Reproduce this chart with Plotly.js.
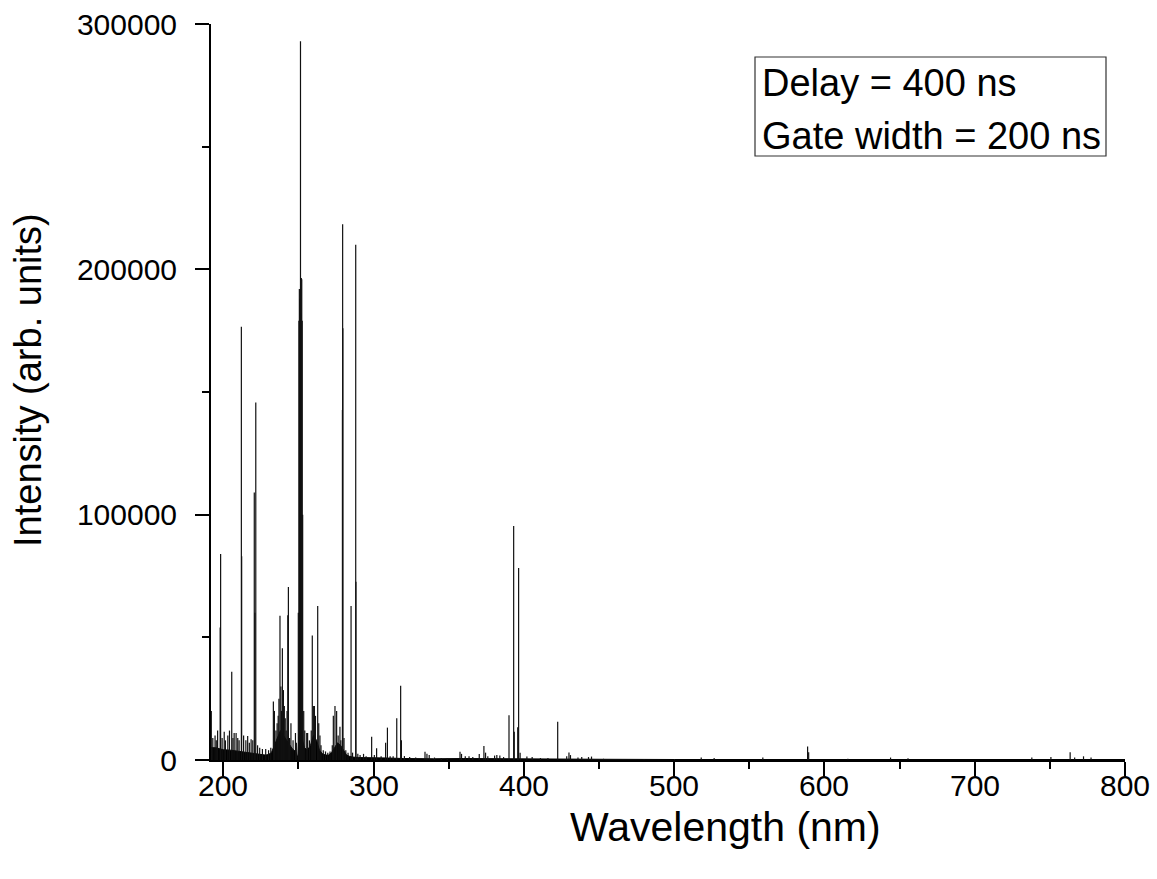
<!DOCTYPE html>
<html>
<head>
<meta charset="utf-8">
<script src="https://cdn.plot.ly/plotly-3.0.1.min.js"></script>
<style>
  html, body { margin: 0; padding: 0; background: #fff; }
  #chart { width: 1157px; height: 879px; }
</style>
</head>
<body>
<div id="chart"></div>
<script>
// Emission lines: wavelength (nm) and peak intensity (arb. units)
const lineWl = [
  192.0, 193.0, 194.5, 195.3, 196.2, 197.9, 198.2, 199.2, 200.6, 201.4, 203.0, 204.1,
  205.6, 206.4, 207.2, 208.5, 209.6, 210.5, 212.0, 212.2, 213.5, 215.0, 216.2, 217.3,
  218.5, 219.6, 220.6, 221.0, 221.6, 222.8, 224.2, 226.0, 228.2, 230.1, 231.6,
  233.3, 234.0, 235.0, 235.8, 236.5, 237.0, 237.7, 238.3, 238.7, 239.3, 239.8, 240.0,
  240.6, 241.2, 241.8, 242.4, 242.9, 243.3, 244.1, 245.0, 246.4, 248.0, 248.6,
  249.9, 250.3, 250.6, 250.9, 251.2, 251.35, 251.6, 251.9, 252.2, 252.5, 252.8,
  253.5, 254.2, 255.5, 256.1, 257.3, 258.5, 259.2, 259.9, 260.6, 261.3, 262.8, 263.5,
  264.3, 265.0, 266.5, 268.0, 269.5, 271.0, 272.5, 273.2, 274.3, 275.4, 276.4, 277.6,
  278.2, 279.25, 279.4, 279.55, 280.3, 281.5, 283.0, 285.0, 286.0, 288.1, 288.25,
  289.5, 291.0, 293.3, 295.0, 298.7, 300.5, 302.0, 305.0, 308.0, 309.2, 311.0, 313.0,
  315.4, 318.0, 318.5, 320.5, 324.0, 328.0, 334.2, 335.5, 337.0, 340.5, 345.0, 349.0,
  357.5, 358.5, 361.0, 363.5, 366.0, 370.3, 373.4, 374.5, 376.0, 380.5, 382.0, 384.0,
  386.5, 390.1, 393.2, 393.6, 395.9, 396.5, 397.5, 402.0, 405.5, 411.0, 416.0, 422.5,
  428.5, 430.0, 431.0, 436.0, 438.5, 443.0, 445.0, 453.0, 466.0, 480.0, 518.0, 526.6,
  559.0, 588.8, 589.5, 615.6, 644.0, 655.6, 738.0, 750.7, 763.5, 766.5, 772.4, 777.4
];
const lineInt = [
  20000, 9000, 10000, 8000, 12000, 54000, 84000, 9000, 11500, 8000, 10000, 12000,
  36000, 9000, 11000, 11000, 9000, 8000, 176600, 83000, 10000, 8000, 9800, 7000,
  8500, 8000, 109000, 60000, 145700, 6000, 5000, 4500, 4500, 4000, 5000,
  23800, 20000, 12000, 15000, 18000, 25000, 58800, 30000, 20000, 45600, 16000, 28500,
  22000, 17000, 12000, 20000, 59000, 70500, 9000, 15000, 8000, 11000, 7000,
  60000, 179000, 192000, 188000, 179000, 293000, 182000, 196500, 196000, 179000, 100000,
  20000, 12000, 11000, 11000, 8000, 12000, 50700, 22000, 22000, 18000, 62800, 15000,
  10000, 6000, 4000, 3500, 3000, 3500, 6000, 18000, 22000, 20000, 10000, 13600,
  8000, 142700, 218400, 176000, 9000, 4000, 3000, 62800, 3000, 210000, 72700,
  2500, 2000, 2500, 1500, 9500, 2000, 4800, 1500, 7000, 13200, 1500, 1500,
  17000, 30300, 8000, 1600, 1200, 1000, 3400, 2500, 2000, 1000, 800, 700,
  3400, 2500, 1500, 1500, 1200, 2400, 5700, 3000, 1500, 1800, 2000, 1800,
  1200, 18200, 95400, 11500, 13300, 78300, 3000, 1400, 1200, 800, 800, 15600,
  1500, 3100, 2000, 1000, 1200, 1200, 1400, 500, 400, 400, 1000, 800,
  1000, 5500, 3200, 500, 1000, 700, 1000, 1200, 3200, 1000, 1500, 1000
];
// Background (continuum) level under the lines
const contWl = [
  191.9, 192.5, 195, 198, 200, 205, 210, 215, 220, 225, 228, 230, 232, 234, 236, 238,
  240, 242, 244, 246, 248, 249.6, 250.2, 251, 252, 252.8, 254, 256, 258, 260, 262, 264,
  266, 268, 270, 272, 274, 276, 278, 280, 282, 284, 286, 290, 295, 300, 305, 310, 320,
  330, 340, 360, 380, 400, 420, 450, 500, 600, 700, 800
];
const contInt = [
  5000, 5000, 5000, 4500, 4200, 4000, 3600, 3200, 2800, 2300, 2000, 2200, 3000, 6000, 9000, 12000,
  10000, 8000, 6000, 4500, 3500, 1000, 9000, 12000, 12000, 8000, 5000, 4000, 6000, 10000, 8000, 4000,
  2500, 2000, 2000, 3000, 5000, 7000, 6000, 4000, 2000, 1500, 1200, 1000, 1000, 1000, 800, 800, 600,
  500, 500, 600, 600, 500, 400, 300, 200, 200, 200, 200
];
const xTicks = [200, 300, 400, 500, 600, 700, 800];
const yTicks = [0, 100000, 200000, 300000];

// build stick segments for each line
const sx = [], sy = [];
lineWl.forEach((w, i) => { sx.push(w, w, null); sy.push(0, lineInt[i], null); });

const FONT = 'Liberation Sans, Arial, sans-serif';

const traces = [
  { x: contWl, y: contInt, type: 'scatter', mode: 'lines', fill: 'tozeroy',
    fillcolor: '#000', line: { color: '#000', width: 1 }, hoverinfo: 'skip' },
  { x: sx, y: sy, type: 'scatter', mode: 'lines',
    line: { color: '#111', width: 1.2 }, connectgaps: false, hoverinfo: 'skip' }
];

const L = 211, R = 1125, T = 24, B = 760;
const W = R - L, H = B - T;
const px = p => (p - L) / W;
const py = p => (B - p) / H;

// x tick labels as annotations (placed tight under the ticks, as in the reference)
const xTickAnn = xTicks.map(v => ({
  xref: 'x', yref: 'paper', x: v, y: py(785), xanchor: 'center', yanchor: 'middle',
  text: String(v), showarrow: false, font: { family: FONT, size: 30, color: '#000' }
}));

const layout = {
  width: 1157, height: 879,
  margin: { l: L, r: 1157 - R, t: T, b: 879 - B },
  paper_bgcolor: '#fff', plot_bgcolor: '#fff',
  showlegend: false,
  font: { family: FONT, color: '#000' },
  xaxis: {
    range: [191.8, 800], tickvals: xTicks, showticklabels: false,
    showgrid: false, zeroline: false, showline: true, linecolor: '#000', linewidth: 2,
    ticks: 'outside', ticklen: 14, tickwidth: 2, tickcolor: '#000',
    minor: { dtick: 50, tick0: 0, ticks: 'outside', ticklen: 7, tickwidth: 2, tickcolor: '#000' }
  },
  yaxis: {
    range: [0, 300000], tickvals: yTicks, ticktext: yTicks.map(String),
    showgrid: false, zeroline: false, showline: true, linecolor: '#000', linewidth: 2,
    ticks: 'outside', ticklen: 14, tickwidth: 2, tickcolor: '#000',
    minor: { dtick: 50000, tick0: 0, ticks: 'outside', ticklen: 7, tickwidth: 2, tickcolor: '#000' },
    tickfont: { family: FONT, size: 30, color: '#000' }, ticklabelstandoff: 12
  },
  shapes: [
    { type: 'rect', xref: 'paper', yref: 'paper', x0: px(755), x1: px(1106), y0: py(156), y1: py(57),
      line: { color: '#333', width: 1.2 }, fillcolor: 'rgba(0,0,0,0)' }
  ],
  annotations: xTickAnn.concat([
    { xref: 'paper', yref: 'paper', x: px(760), y: py(83), xanchor: 'left', yanchor: 'middle',
      text: 'Delay = 400 ns', showarrow: false, font: { family: FONT, size: 38, color: '#000' } },
    { xref: 'paper', yref: 'paper', x: px(760), y: py(136), xanchor: 'left', yanchor: 'middle',
      text: 'Gate width = 200 ns', showarrow: false, font: { family: FONT, size: 38, color: '#000' } },
    { xref: 'paper', yref: 'paper', x: px(725), y: py(827), xanchor: 'center', yanchor: 'middle',
      text: 'Wavelength (nm)', showarrow: false, font: { family: FONT, size: 41, color: '#000' } },
    { xref: 'paper', yref: 'paper', x: px(28), y: py(380), xanchor: 'center', yanchor: 'middle',
      text: 'Intensity (arb. units)', textangle: -90, showarrow: false,
      font: { family: FONT, size: 38, color: '#000' } }
  ])
};

Plotly.newPlot('chart', traces, layout, { staticPlot: true, displayModeBar: false });
</script>
</body>
</html>
